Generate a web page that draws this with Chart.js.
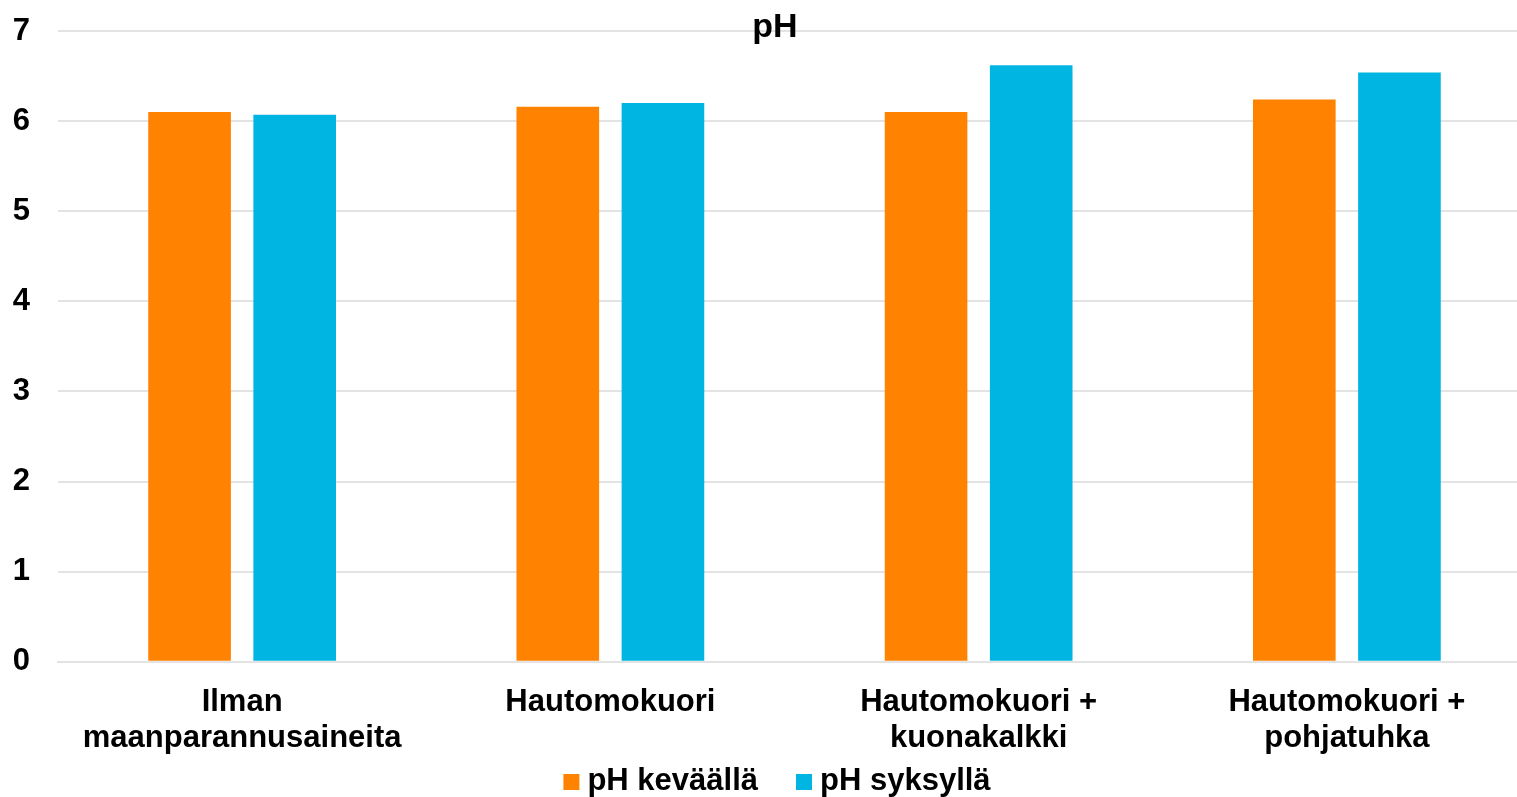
<!DOCTYPE html>
<html lang="fi">
<head>
<meta charset="utf-8">
<title>pH</title>
<script src="https://cdn.jsdelivr.net/npm/chart.js@4.4.1/dist/chart.umd.min.js"></script>
<style>
  html, body { margin: 0; padding: 0; background: #ffffff; overflow: hidden; }
  #wrap { position: relative; width: 1550px; height: 797px; }
</style>
</head>
<body>
<div id="wrap"><canvas id="chart"></canvas></div>
<script>
// Kategoriat (monirivinen nimi = taulukko riveistä)
const categories = [
  ['Ilman', 'maanparannusaineita'],
  ['Hautomokuori'],
  ['Hautomokuori +', 'kuonakalkki'],
  ['Hautomokuori +', 'pohjatuhka']
];
const seriesNames = ['pH keväällä', 'pH syksyllä'];
const phSpring = [6.10, 6.16, 6.10, 6.24];
const phAutumn = [6.07, 6.20, 6.62, 6.54];
const yTicks = [0, 1, 2, 3, 4, 5, 6, 7];
const chartTitle = 'pH';

const colors = ['#FF8200', '#00B5E2'];
const FONT = '"Liberation Sans", Arial, sans-serif';

// Otsikko ja selite piirretään itse kaavion päälle
const overlay = {
  id: 'overlay',
  afterDraw(chart) {
    const ctx = chart.ctx;
    const w = chart.width;
    ctx.save();
    ctx.fillStyle = '#000';
    ctx.textBaseline = 'alphabetic';
    ctx.textAlign = 'center';
    ctx.font = 'bold 34px ' + FONT;
    ctx.fillText(chartTitle, w / 2, 37);

    ctx.font = 'bold 31px ' + FONT;
    ctx.textAlign = 'left';
    const box = 16, gapText = 8, gapItem = 38;
    const items = chart.data.datasets.map(ds => ({
      text: ds.label, color: ds.backgroundColor,
      width: box + gapText + ctx.measureText(ds.label).width
    }));
    const total = items.reduce((s, it) => s + it.width, 0) + gapItem * (items.length - 1);
    let x = w / 2 + 2 - total / 2;
    items.forEach(it => {
      ctx.fillStyle = it.color;
      ctx.fillRect(x, 774, box, box);
      ctx.fillStyle = '#000';
      ctx.fillText(it.text, x + box + gapText, 790);
      x += it.width + gapItem;
    });
    ctx.restore();
  }
};

new Chart(document.getElementById('chart'), {
  type: 'bar',
  data: {
    labels: categories,
    datasets: [
      { label: seriesNames[0], data: phSpring, backgroundColor: colors[0] },
      { label: seriesNames[1], data: phAutumn, backgroundColor: colors[1] }
    ]
  },
  options: {
    responsive: true,
    maintainAspectRatio: false,
    animation: false,
    datasets: { bar: { categoryPercentage: 0.571, barPercentage: 0.786 } },
    layout: { padding: { top: 31, left: 12, right: 19, bottom: 26 } },
    plugins: {
      legend: { display: false },
      title: { display: false },
      tooltip: { enabled: false }
    },
    scales: {
      x: {
        afterFit(scale) { scale.paddingLeft = 0; scale.paddingRight = 0; },
        grid: { display: false },
        border: { display: true, color: '#e3e3e3', width: 2 },
        ticks: {
          color: '#000',
          padding: 15,
          maxRotation: 0,
          autoSkip: false,
          font: { family: FONT, size: 31, weight: 'bold', lineHeight: 1.15 }
        }
      },
      y: {
        min: yTicks[0],
        max: yTicks[yTicks.length - 1],
        afterBuildTicks(scale) { scale.ticks = yTicks.map(v => ({ value: v })); },
        afterFit(scale) { scale.paddingTop = 0; scale.paddingBottom = 0; scale.width = 46; },
        grid: { color: '#e3e3e3', lineWidth: 2, drawTicks: false },
        border: { display: false },
        ticks: {
          color: '#000',
          padding: 28,
          font: { family: FONT, size: 31, weight: 'bold' }
        }
      }
    }
  },
  plugins: [overlay]
});
</script>
</body>
</html>
